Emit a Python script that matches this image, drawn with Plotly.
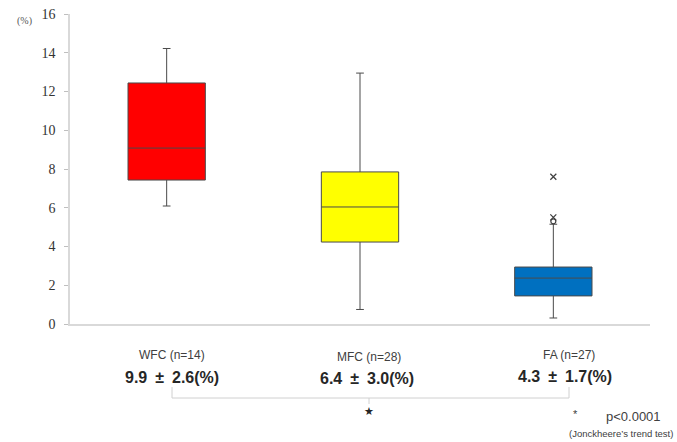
import plotly.graph_objects as go

categories = ["WFC", "MFC", "FA"]
q1 = [7.43, 4.23, 1.45]
median = [9.08, 6.04, 2.37]
q3 = [12.44, 7.85, 2.94]
lower = [6.09, 0.75, 0.31]
upper = [14.22, 12.95, 5.15]
colors = ["#ff0000", "#ffff00", "#0070c0"]

outlier_x_vals = [7.6, 5.5]
outlier_o_vals = [5.3]

group_labels = ["WFC (n=14)", "MFC (n=28)", "FA (n=27)"]
mean_labels = ["9.9\u2002\u00b1\u20022.6(%)", "6.4\u2002\u00b1\u20023.0(%)", "4.3\u2002\u00b1\u20021.7(%)"]
y_ticks = [0, 2, 4, 6, 8, 10, 12, 14, 16]

fig = go.Figure()
for i, c in enumerate(categories):
    fig.add_trace(go.Box(
        x=[c], q1=[q1[i]], median=[median[i]], q3=[q3[i]],
        lowerfence=[lower[i]], upperfence=[upper[i]],
        fillcolor=colors[i], line=dict(color="#4a4a4a", width=1),
        width=0.4, whiskerwidth=0.1, boxpoints=False, showlegend=False,
        hoverinfo="skip",
    ))

fig.add_trace(go.Scatter(
    x=["FA"] * len(outlier_x_vals), y=outlier_x_vals, mode="markers",
    marker=dict(symbol="x-thin-open", size=6, color="#404040", line=dict(color="#404040", width=1.2)),
    showlegend=False, hoverinfo="skip"))
fig.add_trace(go.Scatter(
    x=["FA"] * len(outlier_o_vals), y=outlier_o_vals, mode="markers",
    marker=dict(symbol="circle-open", size=5, color="#404040", line=dict(color="#404040", width=1.2)),
    showlegend=False, hoverinfo="skip"))

L, R, T, B = 70, 27, 14, 118
W, H = 677, 442
pw = W - L - R
ph = H - T - B


def px(x):
    return (x - L) / pw


def py(y):
    return (H - B - y) / ph


def note(x, y, text, size, family="Liberation Sans, Arial", color="#404040"):
    return dict(x=px(x), y=py(y), xref="paper", yref="paper", text=text, showarrow=False,
                xanchor="center", yanchor="middle",
                font=dict(family=family, size=size, color=color))


annotations = []
label_x = [172, 369, 569]
label_y = [355, 357, 355]
mean_x = [172, 367, 565]
mean_y = [377, 378, 376]
for i in range(3):
    annotations.append(note(label_x[i], label_y[i], group_labels[i], 12))
    annotations.append(note(mean_x[i], mean_y[i], "<b>" + mean_labels[i] + "</b>", 16, color="#262626"))

annotations += [
    note(369, 411, "\u2605", 11, family="DejaVu Sans", color="#262626"),
    note(575, 414, "*", 11),
    note(633, 416, "p<0.0001", 13),
    note(621, 433, "(Jonckheere\u2019s trend test)", 9.5),
    note(24, 21, "(%)", 10, family="Liberation Serif, serif", color="#555555"),
]

line_style = dict(color="#d0d0d0", width=1)
shapes = [
    dict(type="line", xref="paper", yref="paper", x0=px(172), x1=px(172), y0=py(387), y1=py(398), line=line_style),
    dict(type="line", xref="paper", yref="paper", x0=px(569), x1=px(569), y0=py(387), y1=py(398), line=line_style),
    dict(type="line", xref="paper", yref="paper", x0=px(172), x1=px(569), y0=py(398), y1=py(398), line=line_style),
    dict(type="line", xref="paper", yref="paper", x0=px(369), x1=px(369), y0=py(398), y1=py(404), line=line_style),
]

fig.update_layout(
    width=W, height=H,
    margin=dict(l=L, r=R, t=T, b=B, pad=0, autoexpand=False),
    paper_bgcolor="white", plot_bgcolor="white",
    annotations=annotations, shapes=shapes,
    xaxis=dict(type="category", range=[-0.5, 2.5], showticklabels=False, showgrid=False,
               showline=True, linecolor="#d9d9d9", linewidth=1.5, ticks="", zeroline=False,
               automargin=False),
    yaxis=dict(range=[0, 16], tickvals=y_ticks, showgrid=False, zeroline=False,
               showline=True, linecolor="#d9d9d9", linewidth=1.5,
               ticks="outside", ticklen=4, tickcolor="#bfbfbf", ticklabelstandoff=6,
               ticklabeloverflow="allow", automargin=False,
               tickfont=dict(family="Liberation Serif, serif", size=14, color="#333333")),
)

fig.write_html(
    "out.html",
    config={"displayModeBar": False},
    post_script="document.body.style.margin='0';document.body.style.overflow='hidden';",
)
